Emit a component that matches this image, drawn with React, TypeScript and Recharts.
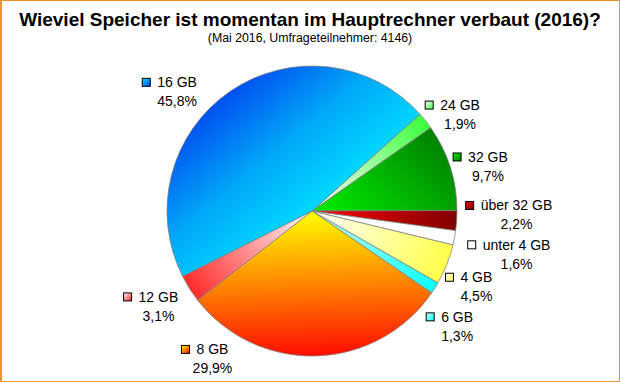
import React from 'react';
import { PieChart, Pie, Cell } from 'recharts';

// ---- data ----
const categories = ['24 GB', '32 GB', 'über 32 GB', 'unter 4 GB', '4 GB', '6 GB', '8 GB', '12 GB', '16 GB'];
const shares = [1.9, 9.7, 2.2, 1.6, 4.5, 1.3, 29.9, 3.1, 45.8];

const TITLE = 'Wieviel Speicher ist momentan im Hauptrechner verbaut (2016)?';
const SUBTITLE = '(Mai 2016, Umfrageteilnehmer: 4146)';

// ---- styles ----
const innerColors = ['#FFFFFF', '#00F000', '#FF0000', '#FFFFFF', '#FFFFFF', '#CCFFFF', '#FFFF00', '#FFFFFF', '#00D8FF'];
const midColors = [null, null, null, null, null, null, null, null, '#00A8F8'];
const outerColors = ['#33FF33', '#007A00', '#7A0000', '#FFFFFF', '#FFFF40', '#00FFFF', '#FF0000', '#FF2020', '#0048F0'];
// gradient direction per slice (deg); null = slice mid-angle
const gradientAngles: (number | null)[] = [null, 45, null, null, null, null, null, null, 130];

// label placement: [angle nudge from slice mid-angle (deg), distance beyond outer radius (px)]
const LABEL_LAYOUT: [number, number][] = [
  [-5.4, 31.7],
  [-3.4, 36.5],
  [2.7, 59.5],
  [-1.3, 64.1],
  [-3.1, 36],
  [-6.4, 40.4],
  [-35.7, 33.3],
  [-0.5, 35.8],
  [14.2, 35],
];

const FONT = '"Liberation Sans", Arial, sans-serif';
const LABEL_SIZE = 14;

const data = categories.map((name, i) => ({ name, value: shares[i] }));

const CHAR_W: Record<string, number> = {
  ' ': 0.278, G: 0.778, B: 0.667, u: 0.556, n: 0.556, t: 0.278, e: 0.556, r: 0.333,
  b: 0.556, 'ü': 0.556, ',': 0.278, '%': 0.889,
};
const textWidth = (s: string, size: number) =>
  s.split('').reduce((acc, ch) => acc + (CHAR_W[ch] ?? 0.556), 0) * size;

const fmt = (v: number) => v.toFixed(1).replace('.', ',') + '%';

const RAD = Math.PI / 180;

const renderLabel = (p: any) => {
  const { cx, cy, midAngle, outerRadius, index } = p;
  const [nudge, extra] = LABEL_LAYOUT[index];
  const a = (midAngle + nudge) * RAD;
  const r = outerRadius + extra;
  const tx = cx + r * Math.cos(a);
  const ty = cy - r * Math.sin(a);
  const name = categories[index];
  const w = textWidth(name, LABEL_SIZE);
  const ga = (gradientAngles[index] ?? midAngle) * RAD;
  const gx2 = cx + outerRadius * 1.05 * Math.cos(ga);
  const gy2 = cy - outerRadius * 1.05 * Math.sin(ga);
  const sq = 8;
  const mid = midColors[index];
  return (
    <g key={`lbl-${index}`}>
      <defs>
        <linearGradient id={`slice-${index}`} gradientUnits="userSpaceOnUse" x1={cx} y1={cy} x2={gx2} y2={gy2}>
          <stop offset="0" stopColor={innerColors[index]} />
          {mid ? <stop offset="0.45" stopColor={mid} /> : null}
          <stop offset="1" stopColor={outerColors[index]} />
        </linearGradient>
        <linearGradient id={`key-${index}`} x1="0" y1="0" x2="1" y2="1">
          <stop offset="0" stopColor={innerColors[index]} />
          <stop offset="1" stopColor={outerColors[index]} />
        </linearGradient>
      </defs>
      <rect
        x={tx - w / 2 - 7 - sq}
        y={ty - 9.5 - sq / 2}
        width={sq}
        height={sq}
        fill={`url(#key-${index})`}
        stroke="#000"
        strokeWidth={1}
      />
      <text x={tx} y={ty - 9.5} textAnchor="middle" dominantBaseline="central" fontSize={LABEL_SIZE} fontFamily={FONT} fill="#000">
        {name}
      </text>
      <text x={tx} y={ty + 9.5} textAnchor="middle" dominantBaseline="central" fontSize={LABEL_SIZE} fontFamily={FONT} fill="#000">
        {fmt(shares[index])}
      </text>
    </g>
  );
};

export default function App() {
  return (
    <div
      style={{
        position: 'relative',
        width: 620,
        height: 382,
        boxSizing: 'border-box',
        borderTop: '1px solid #F0922C',
        borderRight: '1px solid #F0922C',
        borderBottom: '1px solid #F0922C',
        borderLeft: '2px solid #F0922C',
        background: '#fff',
        overflow: 'hidden',
      }}
    >
      <style>{'body{margin:0;}'}</style>
      <div
        style={{
          position: 'absolute',
          top: 9,
          left: -2,
          width: 620,
          textAlign: 'center',
          fontFamily: FONT,
          fontWeight: 'bold',
          fontSize: 19,
          lineHeight: '20px',
          color: '#000',
          whiteSpace: 'nowrap',
        }}
      >
        {TITLE}
      </div>
      <div
        style={{
          position: 'absolute',
          top: 30,
          left: -2,
          width: 620,
          textAlign: 'center',
          fontFamily: FONT,
          fontSize: 12.3,
          lineHeight: '14px',
          color: '#000',
          whiteSpace: 'nowrap',
        }}
      >
        {SUBTITLE}
      </div>
      <div style={{ position: 'absolute', left: -2, top: -1 }}>
        <PieChart width={620} height={382} margin={{ top: 0, right: 0, bottom: 0, left: 0 }}>
          <Pie
            data={data}
            dataKey="value"
            nameKey="name"
            cx={312}
            cy={211}
            outerRadius={145}
            startAngle={41.9}
            endAngle={-318.1}
            stroke="#7f7f7f"
            strokeWidth={0.75}
            label={renderLabel}
            labelLine={false}
            isAnimationActive={false}
          >
            {data.map((d, i) => (
              <Cell key={d.name} fill={`url(#slice-${i})`} />
            ))}
          </Pie>
        </PieChart>
      </div>
    </div>
  );
}
